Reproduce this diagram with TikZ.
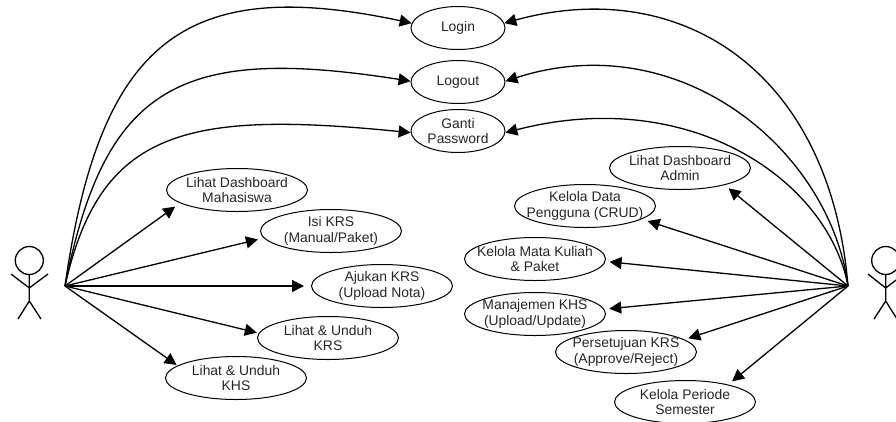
\documentclass[tikz,border=0pt]{standalone}
\usepackage{fontspec}
\setmainfont{Liberation Sans}
\usetikzlibrary{arrows.meta,shapes.geometric}

\begin{document}
\begin{tikzpicture}[
    x=1pt,y=-1pt,
    usecase/.style={draw,ellipse,line width=1pt,minimum width=141pt,minimum height=43pt,inner xsep=-30pt,inner ysep=-12pt,align=center,text=black!85,font=\fontsize{13.9}{15.4}\selectfont},
    shortcase/.style={usecase,minimum width=94pt},
    assoc/.style={-{Triangle[length=12pt,width=12pt]},line width=1.3pt},
    stick/.style={line width=1.3pt}
  ]
    \useasboundingbox (0,0) rectangle (896,421);

    % Shared use cases
    \node[shortcase] (login) at (458,28) {Login};
    \node[shortcase] (logout) at (458,82) {Logout};
    \node[shortcase] (password) at (458,131) {Ganti\\Password};

    % Use cases: student side
    \node[usecase] (dashmhs) at (237,190) {Lihat Dashboard\\Mahasiswa};
    \node[usecase] (isikrs) at (331,231) {Isi KRS\\(Manual/Paket)};
    \node[usecase] (ajukan) at (382,286) {Ajukan KRS\\(Upload Nota)};
    \node[usecase] (unduhkrs) at (328,338) {Lihat \& Unduh\\KRS};
    \node[usecase] (unduhkhs) at (236,378) {Lihat \& Unduh\\KHS};

    % Use cases: admin side
    \node[usecase] (dashadm) at (680,168) {Lihat Dashboard\\Admin};
    \node[usecase] (pengguna) at (585,206) {Kelola Data\\Pengguna (CRUD)};
    \node[usecase] (matkul) at (535,259) {Kelola Mata Kuliah\\\& Paket};
    \node[usecase] (khs) at (535,314) {Manajemen KHS\\(Upload/Update)};
    \node[usecase] (setuju) at (626,352) {Persetujuan KRS\\(Approve/Reject)};
    \node[usecase] (periode) at (685,402) {Kelola Periode\\Semester};

    % Actors
    \draw[stick] (29.3,260.5) circle (14);
    \draw[stick] (29.3,274.5) -- (29.3,301) (11,274) -- (29.3,288) -- (48,274) (18,319) -- (29.3,301) -- (41,319);
    \draw[stick] (885.7,260.5) circle (14);
    \draw[stick] (885.7,274.5) -- (885.7,301) (868,274) -- (885.7,288) -- (904,274) (874,319) -- (885.7,301) -- (897,319);

    \coordinate (mhs) at (65,286);
    \coordinate (adm) at (848,286);

    % Associations: student
    \draw[assoc] (mhs) .. controls (100,40) and (185,-25) .. (login.174);
    \draw[assoc] (mhs) .. controls (105,85) and (180,45) .. (logout.179);
    \draw[assoc] (mhs) .. controls (100,130) and (185,110) .. (password.182);
    \draw[assoc,shorten >=6pt] (mhs) -- (dashmhs.193);
    \draw[assoc,shorten >=6pt] (mhs) -- (isikrs.186);
    \draw[assoc,shorten >=7pt] (mhs) -- (ajukan.west);
    \draw[assoc,shorten >=2pt] (mhs) -- (unduhkrs.176);
    \draw[assoc,shorten >=1pt] (mhs) -- (unduhkhs.168);

    % Associations: admin
    \draw[assoc] (adm) .. controls (830,70) and (680,-25) .. (login.6);
    \draw[assoc] (adm) .. controls (830,150) and (680,25) .. (logout.1);
    \draw[assoc] (adm) .. controls (828,180) and (690,85) .. (password.-2);
    \draw[assoc,shorten >=5pt] (adm) -- (dashadm.-21);
    \draw[assoc,shorten >=6pt] (adm) -- (pengguna.-13.5);
    \draw[assoc,shorten >=4pt] (adm) -- (matkul.-2);
    \draw[assoc,shorten >=5pt] (adm) -- (khs.4);
    \draw[assoc,shorten >=4pt] (adm) -- (setuju.12);
    \draw[assoc,shorten >=5pt] (adm) -- (periode.22);
\end{tikzpicture}
\end{document}
